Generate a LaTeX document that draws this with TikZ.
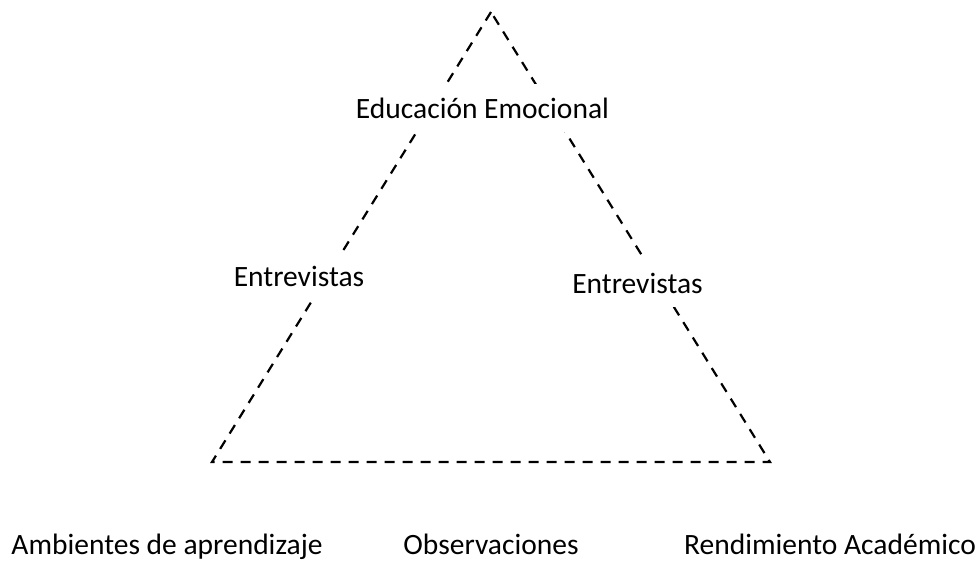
\documentclass[tikz,border=0pt]{standalone}
\usepackage{fontspec}
\setmainfont{Carlito}
\begin{document}
\begin{tikzpicture}[x=1pt,y=-1pt,
  edge/.style={line width=2.2pt,dash pattern=on 10pt off 8pt},
  lbl/.style={fill=white,anchor=base,inner xsep=2pt,inner ysep=14pt,font=\fontsize{29.5}{34}\selectfont},
  blbl/.style={anchor=base,inner sep=0pt,font=\fontsize{29.5}{34}\selectfont}]
\useasboundingbox (0,0) rectangle (977,560);
\coordinate (A) at (491,12);
\coordinate (B) at (212,462);
\coordinate (C) at (770,462);
\draw[edge] (A) -- (B) -- (C) -- cycle;
\node[lbl] (ee) at (482.5,118) {Educación Emocional};
\node[lbl] (el) at (299,286) {Entrevistas};
\node[lbl] (er) at (637.5,293) {Entrevistas};
\node[blbl] (amb) at (167,554) {Ambientes de aprendizaje};
\node[blbl] (obs) at (491,554) {Observaciones};
\node[blbl] (ren) at (830,554) {Rendimiento Académico};
\end{tikzpicture}
\end{document}
